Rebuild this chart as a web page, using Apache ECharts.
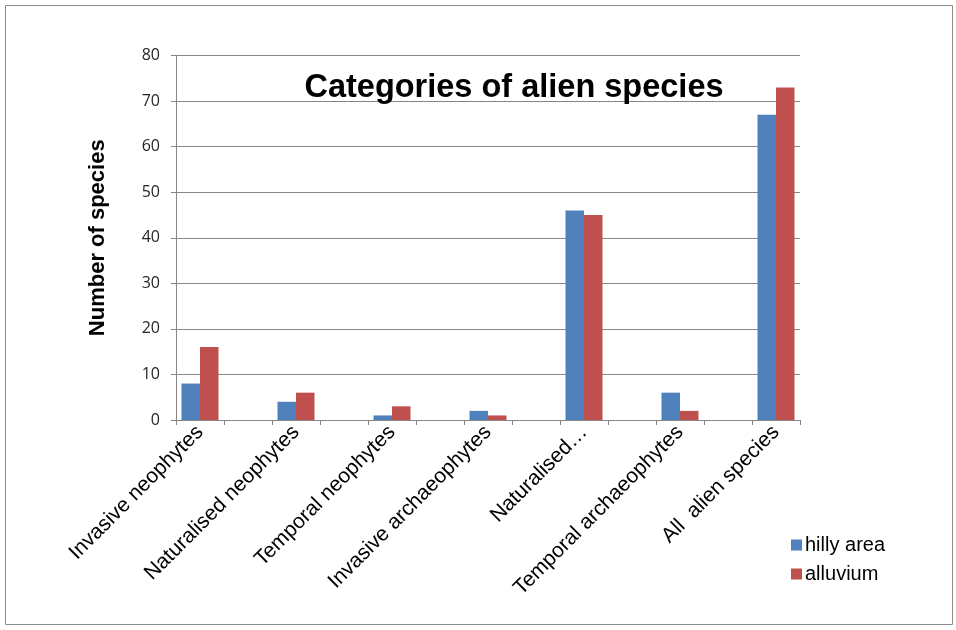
<!DOCTYPE html>
<html>
<head>
<meta charset="utf-8">
<script src="https://cdn.jsdelivr.net/npm/echarts@6/dist/echarts.min.js"></script>
<style>
  html, body { margin: 0; padding: 0; background: #fff; }
  #chart { width: 956px; height: 630px; }
</style>
</head>
<body>
<div id="chart"></div>
<script>
// empty strings are the spacer categories between groups
const categories = [
  'Invasive neophytes', '', 'Naturalised neophytes', '', 'Temporal neophytes', '',
  'Invasive archaeophytes', '', 'Naturalised…', '', 'Temporal archaeophytes', '',
  'All  alien species'
];
const hillyArea = [8, null, 4, null, 1, null, 2, null, 46, null, 6, null, 67];
const alluvium = [16, null, 6, null, 3, null, 1, null, 45, null, 2, null, 73];
const yTicks = { min: 0, max: 80, interval: 10 };

const chart = echarts.init(document.getElementById('chart'));
const font = 'Liberation Sans, Arial, sans-serif';

const option = {
  animation: false,
  textStyle: { fontFamily: font },
  title: {
    text: 'Categories of alien species',
    left: 509,
    top: 67,
    textAlign: 'center',
    textStyle: { fontSize: 32.5, fontWeight: 'bold', color: '#000', fontFamily: font }
  },
  legend: {
    orient: 'vertical',
    left: 786,
    top: 530,
    itemWidth: 11,
    itemHeight: 11,
    itemGap: 9,
    icon: 'rect',
    textStyle: { fontSize: 20, color: '#000', fontFamily: font, padding: [0, 0, 0, -2] },
    data: ['hilly area', 'alluvium']
  },
  graphic: [{
    type: 'rect',
    shape: { x: 5.5, y: 5.5, width: 947, height: 619 },
    style: { fill: 'none', stroke: '#8c8c8c', lineWidth: 1 }
  }],
  grid: { left: 176, right: 156, top: 55.5, bottom: 210 },
  xAxis: {
    type: 'category',
    data: categories,
    axisLine: { lineStyle: { color: '#868686' } },
    axisTick: { show: true, length: 5, interval: 0, lineStyle: { color: '#868686' } },
    axisLabel: { interval: 0, rotate: 45, fontSize: 21, color: '#000', margin: 9 }
  },
  yAxis: {
    type: 'value',
    min: yTicks.min,
    max: yTicks.max,
    interval: yTicks.interval,
    name: 'Number of species',
    nameLocation: 'middle',
    nameGap: 67,
    nameTextStyle: { fontSize: 22, fontWeight: 'bold', color: '#000' },
    axisLine: { show: true, lineStyle: { color: '#868686' } },
    axisTick: { show: true, length: 5, lineStyle: { color: '#868686' } },
    axisLabel: { fontSize: 16, color: '#262626', margin: 16, fontFamily: 'Open Sans' },
    splitLine: { lineStyle: { color: '#868686' } }
  },
  series: [
    {
      name: 'hilly area',
      type: 'bar',
      data: hillyArea,
      barWidth: 18.5,
      barGap: '0%',
      itemStyle: { color: '#4F81BD' }
    },
    {
      name: 'alluvium',
      type: 'bar',
      data: alluvium,
      barWidth: 18.5,
      itemStyle: { color: '#C0504D' }
    }
  ]
};

chart.setOption(option);
</script>
</body>
</html>
